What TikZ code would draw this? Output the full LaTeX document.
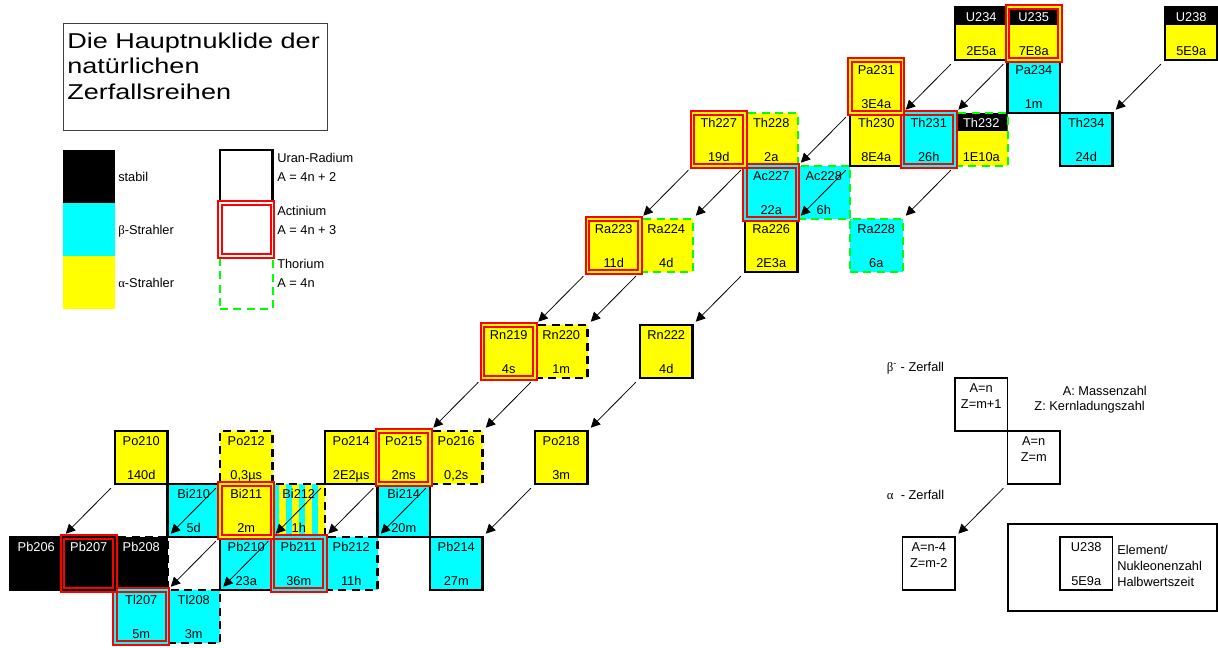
\documentclass[tikz,border=0pt]{standalone}
\usepackage{fontspec}
\setmainfont{Liberation Sans}
\newfontfamily\grfont{Liberation Serif}
\newfontfamily\titelfont[FakeStretch=1.26]{Liberation Sans}
\usetikzlibrary{arrows.meta}
\definecolor{alphagelb}{RGB}{255,255,0}
\definecolor{betacyan}{RGB}{0,255,255}
\definecolor{thgruen}{RGB}{0,255,0}
\definecolor{akrot}{RGB}{255,0,0}

\begin{document}
\begin{tikzpicture}[x=0.75pt, y=-0.75pt, font=\fontsize{9.6}{11.5}\selectfont,
	zelle/.style = {rectangle, minimum width=39.375pt, minimum height=39.75pt, inner sep=0pt, outer sep=0pt},
	uran/.style = {draw=black, line width=2pt},
	aktinium/.style = {draw=akrot, line width=1.5pt, double=#1, double distance=1pt, fill=#1},
	thorium/.style = {draw=thgruen, line width=1.5pt, dash pattern=on 6pt off 4pt},
	thoriumsw/.style = {draw=black, line width=2pt, dash pattern=on 6pt off 4pt},
	formel/.style = {draw=black, line width=1.3pt, fill=white},
	kopf/.style = {path picture={\fill[black] (path picture bounding box.north west) rectangle ([yshift=-13.5pt]path picture bounding box.north east);}},
	streifen/.style = {path picture={\foreach \i/\f in {0/betacyan, 1/alphagelb, 2/betacyan, 3/alphagelb, 4/betacyan, 5/alphagelb, 6/betacyan, 7/alphagelb}
		\fill[\f] ([xshift=\i*4.921875pt]path picture bounding box.south west) rectangle ([xshift=\i*4.921875pt+4.921875pt]path picture bounding box.north west);}},
	nktext/.style = {anchor=base, yshift=-10.9pt, inner sep=0pt},
	hltext/.style = {anchor=base, yshift=3.4pt, inner sep=0pt},
	fztext/.style = {anchor=north, align=center, yshift=-4.35pt, inner sep=0pt, font=\fontsize{9.6}{11.6}\selectfont},
	nk/.style = {label={[nktext]north:#1}},
	nkw/.style = {label={[nktext, text=white]north:#1}},
	hl/.style = {label={[hltext]south:#1}},
	fz/.style = {label={[fztext]north:#1}},
	txt/.style = {anchor=base west, inner sep=0pt},
	zerfall/.style = {-{Triangle[length=7pt, width=7pt]}, line width=0.6pt, shorten <=4.5pt, shorten >=3.5pt}]
	\useasboundingbox (0,0) rectangle (1218,647);
	% Titel
	\node[draw=black!75, line width=0.75pt, minimum width=198pt, minimum height=80.25pt, anchor=north west, inner sep=0pt] (titelrahmen) at (63,23) {};
	\node[anchor=north west, align=left, inner sep=0pt, font=\titelfont\fontsize{16.1}{19.1}\selectfont] (titel) at (67,32.3) {Die Hauptnuklide der\\nat\"urlichen\\Zerfallsreihen};
	% Legende
	\node[txt] (tstabil) at (118,181.7) {stabil};
	\node[txt] (tbeta) at (118,234.7) {{\grfont β}-Strahler};
	\node[txt] (talpha) at (118,287.7) {{\grfont α}-Strahler};
	\node[txt] (turan) at (277,162.3) {Uran-Radium};
	\node[txt] (turanA) at (277,181.7) {A = 4n + 2};
	\node[txt] (takt) at (277,215.3) {Actinium};
	\node[txt] (taktA) at (277,234.7) {A = 4n + 3};
	\node[txt] (tthor) at (277,268.3) {Thorium};
	\node[txt] (tthorA) at (277,287.7) {A = 4n};
	\node[txt] (tbz) at (886.7,371.7) {{\grfont β}\textsuperscript{-} - Zerfall};
	\node[txt] (taz) at (886.7,499.3) {{\grfont α}\ \ - Zerfall};
	\node[anchor=base east, inner sep=0pt] (tmasse) at (1147,395) {A: Massenzahl};
	\node[anchor=base east, inner sep=0pt] (tladung) at (1145,410.7) {Z: Kernladungszahl};
	\node[draw=black, line width=1.5pt, minimum width=156.75pt, minimum height=65.25pt, anchor=north west, inner sep=0pt] (beispiel) at (1007,523) {};
	\node[anchor=north west, align=left, inner sep=0pt, font=\fontsize{9.6}{12}\selectfont] (terkl) at (1117,544.7) {Element/\\Nukleonenzahl\\Halbwertszeit};
	\begin{scope}[shift={(27.1875pt,-462.375pt)}, x=39.375pt, y=39.75pt]
		% Legende
		\node[zelle, fill=black] (legstabil) at (1,8.3) {};
		\node[zelle, fill=betacyan] (legbeta) at (1,7.3) {};
		\node[zelle, fill=alphagelb] (legalpha) at (1,6.3) {};
		\node[zelle, thorium, fill=white] (legthor) at (4,6.3) {};
		\node[zelle, uran, fill=white] (leguran) at (4,8.3) {};
		\node[zelle, aktinium=white] (legakt) at (4,7.3) {};
		\node[zelle, formel, fz={A=n\\Z=m+1}] (betaoben) at (18,4) {};
		\node[zelle, formel, fz={A=n\\Z=m}] (betaunten) at (19,3) {};
		\node[zelle, formel, fz={A=n-4\\Z=m-2}] (alphaunten) at (17,1) {};
		\node[zelle, formel, nk=U238, hl=5E9a] (beispiel238) at (20,1) {};
		% Thorium
		\node[zelle, thorium, fill=alphagelb, kopf, nkw=Th232, hl=1E10a] (Th232) at (18,9) {};
		\node[zelle, thorium, fill=betacyan, nk=Ra228, hl=6a] (Ra228) at (16,7) {};
		\node[zelle, thorium, fill=betacyan, nk=Ac228, hl=6h] (Ac228) at (15,8) {};
		\node[zelle, thorium, fill=alphagelb, nk=Th228, hl=2a] (Th228) at (14,9) {};
		\node[zelle, thorium, fill=alphagelb, nk=Ra224, hl=4d] (Ra224) at (12,7) {};
		\node[zelle, thoriumsw, fill=alphagelb, nk=Rn220, hl=1m] (Rn220) at (10,5) {};
		\node[zelle, thoriumsw, fill=alphagelb, nk=Po216, hl={0,2s}] (Po216) at (8,3) {};
		\node[zelle, thoriumsw, fill=betacyan, nk=Pb212, hl=11h] (Pb212) at (6,1) {};
		\node[zelle, thoriumsw, streifen, nk=Bi212, hl=1h] (Bi212) at (5,2) {};
		\node[zelle, thoriumsw, fill=alphagelb, nk=Po212, hl={0,3µs}] (Po212) at (4,3) {};
		\node[zelle, thoriumsw, fill=betacyan, nk=Tl208, hl=3m] (Tl208) at (3,0) {};
		\node[zelle, thoriumsw, fill=black, nkw=Pb208] (Pb208) at (2,1) {};
		% Uran-Radium
		\node[zelle, uran, fill=alphagelb, kopf, nkw=U238, hl=5E9a] (U238) at (22,11) {};
		\node[zelle, uran, fill=betacyan, nk=Th234, hl=24d] (Th234) at (20,9) {};
		\node[zelle, uran, fill=betacyan, nk=Pa234, hl=1m] (Pa234) at (19,10) {};
		\node[zelle, uran, fill=alphagelb, kopf, nkw=U234, hl=2E5a] (U234) at (18,11) {};
		\node[zelle, uran, fill=alphagelb, nk=Th230, hl=8E4a] (Th230) at (16,9) {};
		\node[zelle, uran, fill=alphagelb, nk=Ra226, hl=2E3a] (Ra226) at (14,7) {};
		\node[zelle, uran, fill=alphagelb, nk=Rn222, hl=4d] (Rn222) at (12,5) {};
		\node[zelle, uran, fill=alphagelb, nk=Po218, hl=3m] (Po218) at (10,3) {};
		\node[zelle, uran, fill=betacyan, nk=Pb214, hl=27m] (Pb214) at (8,1) {};
		\node[zelle, uran, fill=betacyan, nk=Bi214, hl=20m] (Bi214) at (7,2) {};
		\node[zelle, uran, fill=alphagelb, nk=Po214, hl=2E2µs] (Po214) at (6,3) {};
		\node[zelle, uran, fill=betacyan, nk=Pb210, hl=23a] (Pb210) at (4,1) {};
		\node[zelle, uran, fill=betacyan, nk=Bi210, hl=5d] (Bi210) at (3,2) {};
		\node[zelle, uran, fill=alphagelb, nk=Po210, hl=140d] (Po210) at (2,3) {};
		\node[zelle, uran, fill=black, nkw=Pb206] (Pb206) at (0,1) {};
		% Actinium
		\node[zelle, aktinium=alphagelb, kopf, nkw=U235, hl=7E8a] (U235) at (19,11) {};
		\node[zelle, aktinium=betacyan, nk=Th231, hl=26h] (Th231) at (17,9) {};
		\node[zelle, aktinium=alphagelb, nk=Pa231, hl=3E4a] (Pa231) at (16,10) {};
		\node[zelle, aktinium=betacyan, nk=Ac227, hl=22a] (Ac227) at (14,8) {};
		\node[zelle, aktinium=alphagelb, nk=Th227, hl=19d] (Th227) at (13,9) {};
		\node[zelle, aktinium=alphagelb, nk=Ra223, hl=11d] (Ra223) at (11,7) {};
		\node[zelle, aktinium=alphagelb, nk=Rn219, hl=4s] (Rn219) at (9,5) {};
		\node[zelle, aktinium=alphagelb, nk=Po215, hl=2ms] (Po215) at (7,3) {};
		\node[zelle, aktinium=betacyan, nk=Pb211, hl=36m] (Pb211) at (5,1) {};
		\node[zelle, aktinium=alphagelb, nk=Bi211, hl=2m] (Bi211) at (4,2) {};
		\node[zelle, aktinium=betacyan, nk=Tl207, hl=5m] (Tl207) at (2,0) {};
		\node[zelle, aktinium=black, nkw=Pb207] (Pb207) at (1,1) {};
		% alpha-Zerfaelle
		\draw[zerfall] (U238.south west) to (Th234.north east);
		\draw[zerfall] (U234.south west) to (Th230.north east);
		\draw[zerfall] (U235.south west) to (Th231.north east);
		\draw[zerfall] (Pa231.south west) to (Ac227.north east);
		\draw[zerfall] (Th230.south west) to (Ra226.north east);
		\draw[zerfall] (Th232.south west) to (Ra228.north east);
		\draw[zerfall] (Th228.south west) to (Ra224.north east);
		\draw[zerfall] (Th227.south west) to (Ra223.north east);
		\draw[zerfall] (Ra226.south west) to (Rn222.north east);
		\draw[zerfall] (Ra224.south west) to (Rn220.north east);
		\draw[zerfall] (Ra223.south west) to (Rn219.north east);
		\draw[zerfall] (Rn222.south west) to (Po218.north east);
		\draw[zerfall] (Rn220.south west) to (Po216.north east);
		\draw[zerfall] (Rn219.south west) to (Po215.north east);
		\draw[zerfall] (Po218.south west) to (Pb214.north east);
		\draw[zerfall] (Po216.south west) to (Pb212.north east);
		\draw[zerfall] (Po215.south west) to (Pb211.north east);
		\draw[zerfall] (Po214.south west) to (Pb210.north east);
		\draw[zerfall] (Po212.south west) to (Pb208.north east);
		\draw[zerfall] (Po210.south west) to (Pb206.north east);
		\draw[zerfall] (Bi211.south west) to (Tl207.north east);
		\draw[zerfall] (Bi212.south west) to (Tl208.north east);
		\draw[zerfall] (betaunten.south west) to (alphaunten.north east);
	\end{scope}
\end{tikzpicture}
\end{document}
